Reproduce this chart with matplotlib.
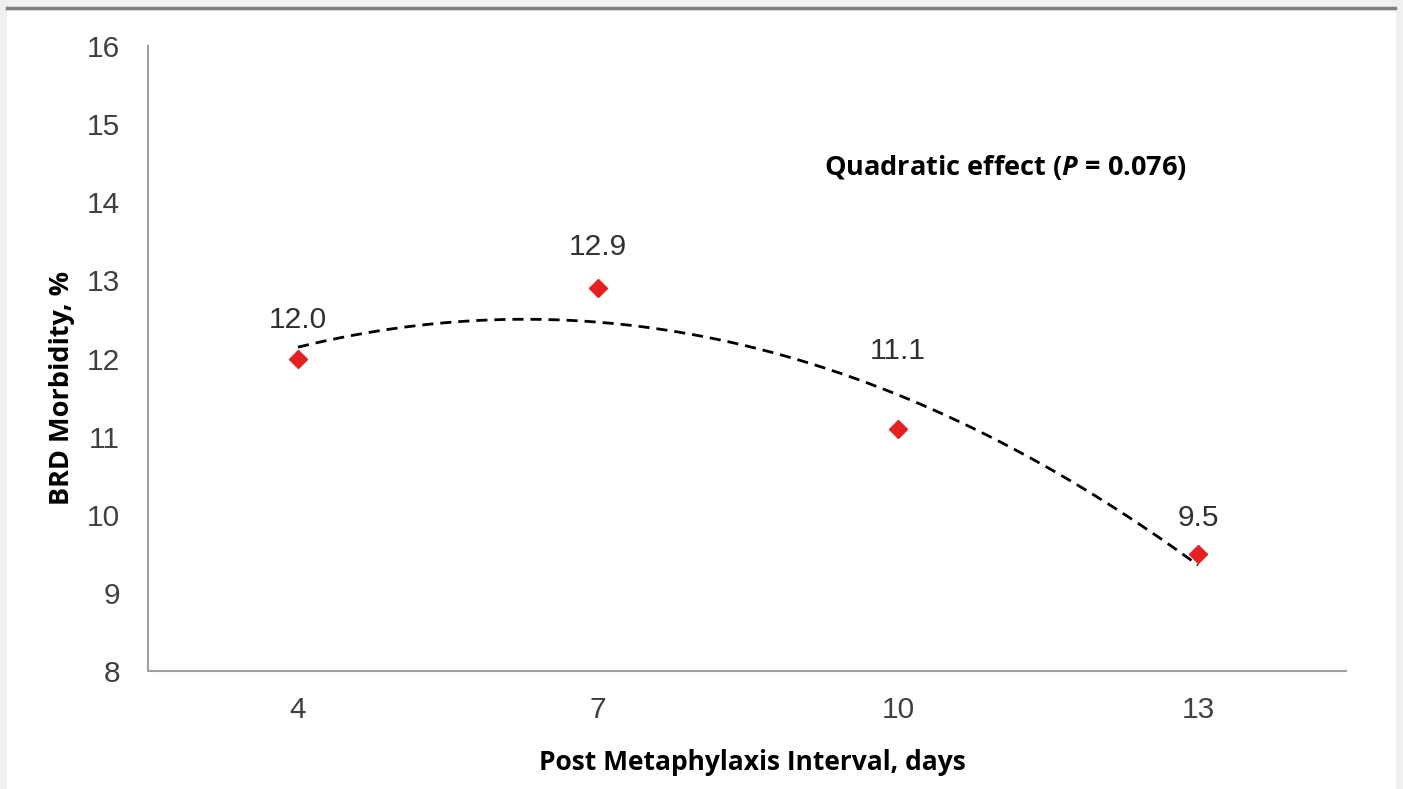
import numpy as np
import matplotlib.pyplot as plt

plt.rcParams['mathtext.fontset'] = 'custom'
plt.rcParams['mathtext.it'] = 'Open Sans:style=italic:weight=bold'

# данные
interval_days = [4, 7, 10, 13]
morbidity = [12.0, 12.9, 11.1, 9.5]
point_labels = ['12.0', '12.9', '11.1', '9.5']
# смещение подписей над точками (пикс.)
label_offsets = [38, 41, 78, 36]

fig = plt.figure(figsize=(14.03, 7.89), dpi=100)
fig.patch.set_facecolor('#eff0f2')
# белая панель и серая полоса сверху
fig.add_artist(plt.Rectangle((7 / 1403, 0), 1389 / 1403, 1 - 11 / 789,
                             transform=fig.transFigure, facecolor='white',
                             edgecolor='none', zorder=0))
fig.add_artist(plt.Line2D([7 / 1403, 1395 / 1403], [1 - 8 / 789, 1 - 8 / 789],
                          transform=fig.transFigure, color='#808080', lw=2.5))

ax = fig.add_axes([148 / 1403, 1 - 671 / 789, 1198 / 1403, 625 / 789])
ax.set_facecolor('none')
ax.set_xlim(2.5, 14.48)
ax.set_ylim(8, 16)
for s in ['top', 'right']:
    ax.spines[s].set_visible(False)
for s in ['left', 'bottom']:
    ax.spines[s].set_color('#a0a0a0')
    ax.spines[s].set_linewidth(1.5)
ax.set_xticks(interval_days)
ax.set_yticks(range(8, 17))
ax.tick_params(length=0, labelsize=21.5, labelcolor='#404040')
for lab in ax.get_xticklabels() + ax.get_yticklabels():
    lab.set_family('Liberation Sans')
ax.tick_params(axis='x', pad=18)
ax.tick_params(axis='y', pad=20)

# квадратичный тренд
coef = np.polyfit(interval_days, morbidity, 2)
xs = np.linspace(interval_days[0], interval_days[-1], 200)
ax.plot(xs, np.polyval(coef, xs), color='black', lw=2, ls=(0, (4, 2.5)))

ax.plot(interval_days, morbidity, ls='none', marker='D', markersize=9,
        color='#e52020', zorder=3)

for x, y, t, off in zip(interval_days, morbidity, point_labels, label_offsets):
    ax.annotate(t, (x, y), xytext=(0, off * 0.72), textcoords='offset points',
                ha='center', va='center', fontsize=21.5, color='#303030',
                family='Liberation Sans')

fig.text(1005 / 1403, 1 - 168 / 789, 'Quadratic effect ($\\mathit{P}$ = 0.076)',
         ha='center', va='center', fontsize=19.5, fontweight='bold',
         family='Open Sans')

fig.text(752 / 1403, 1 - 762 / 789, 'Post Metaphylaxis Interval, days',
         ha='center', va='center', fontsize=19, fontweight='bold',
         family='Open Sans')
fig.text(62 / 1403, 1 - 388 / 789, 'BRD Morbidity, %', rotation=90,
         ha='center', va='center', fontsize=19.5, fontweight='bold',
         family='Open Sans')

fig.savefig('out.png', dpi=100, facecolor=fig.get_facecolor())
